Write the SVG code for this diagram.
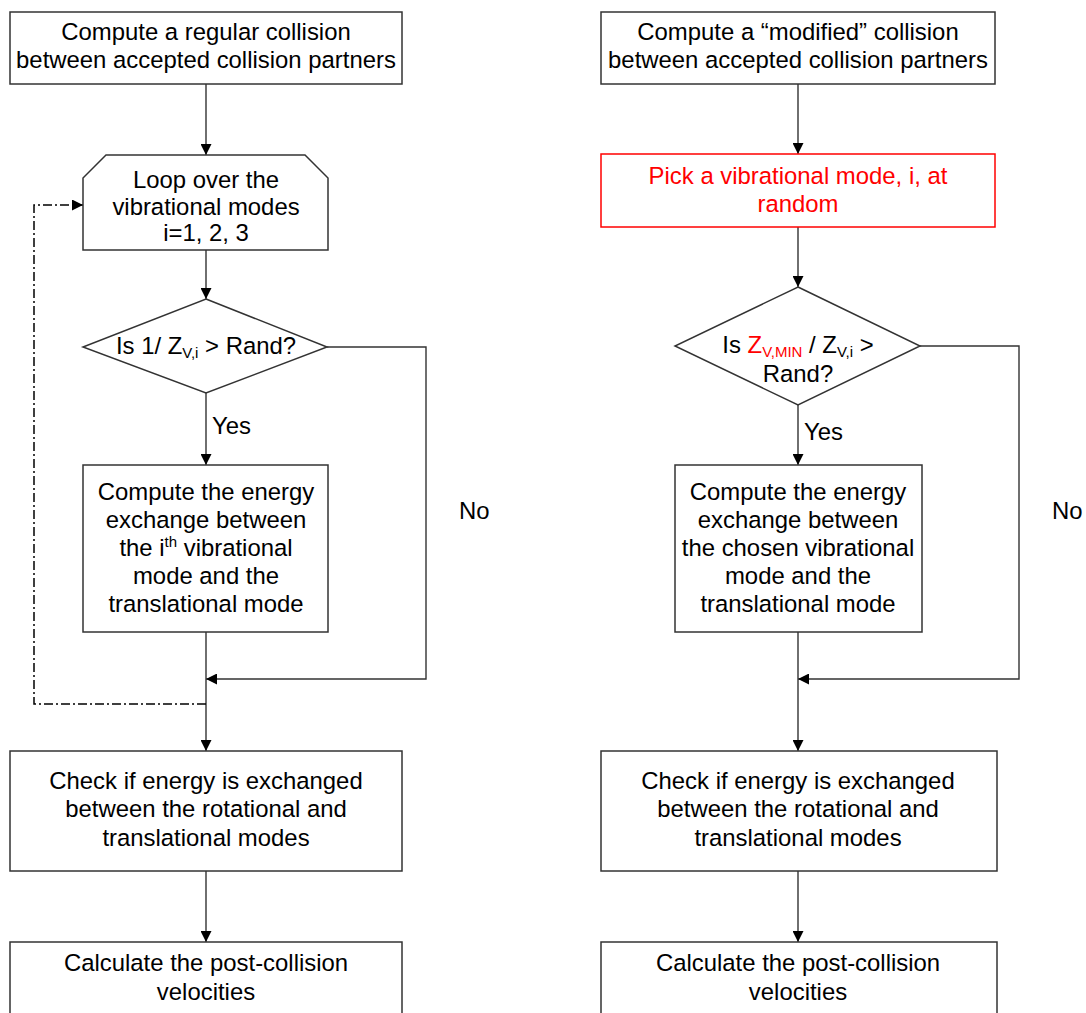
<svg xmlns="http://www.w3.org/2000/svg" width="1086" height="1013" viewBox="0 0 1086 1013">
<style>
text{font-family:"Liberation Sans",Arial,sans-serif;font-size:23.9px;fill:#000;text-anchor:middle}
.box{fill:#fff;stroke:#333;stroke-width:1.5}
.red{fill:#fff;stroke:#f00;stroke-width:1.5}
.rt{fill:#f00}
.ln{fill:none;stroke:#333;stroke-width:1.4}
.dd{fill:none;stroke:#000;stroke-width:1.5;stroke-dasharray:9 3 2 3}
.lbl{text-anchor:start}
</style>
<defs>
<marker id="ah" markerUnits="userSpaceOnUse" markerWidth="11" markerHeight="11" refX="10" refY="5" orient="auto" viewBox="0 0 10 10">
<path d="M0,0 L10,5 L0,10 z" fill="#000"/>
</marker>
</defs>
<g id="connectors">
<line class="ln" x1="206" y1="84" x2="206" y2="155" marker-end="url(#ah)"/>
<line class="ln" x1="206" y1="250" x2="206" y2="299" marker-end="url(#ah)"/>
<line class="ln" x1="206" y1="393" x2="206" y2="465" marker-end="url(#ah)"/>
<polyline class="ln" points="327,347 426,347 426,679 206,679" marker-end="url(#ah)"/>
<line class="ln" x1="206" y1="632" x2="206" y2="751" marker-end="url(#ah)"/>
<polyline class="dd" points="206,704 34,704 34,205 83,205" marker-end="url(#ah)"/>
<line class="ln" x1="206" y1="871" x2="206" y2="942" marker-end="url(#ah)"/>
<line class="ln" x1="798" y1="84" x2="798" y2="154" marker-end="url(#ah)"/>
<line class="ln" x1="798" y1="227" x2="798" y2="287" marker-end="url(#ah)"/>
<line class="ln" x1="798" y1="405" x2="798" y2="465" marker-end="url(#ah)"/>
<polyline class="ln" points="920,346 1019,346 1019,679 798,679" marker-end="url(#ah)"/>
<line class="ln" x1="798" y1="632" x2="798" y2="751" marker-end="url(#ah)"/>
<line class="ln" x1="798" y1="871" x2="798" y2="942" marker-end="url(#ah)"/>
<text class="lbl" x="212" y="434">Yes</text>
<text class="lbl" x="459" y="519">No</text>
<text class="lbl" x="804" y="440">Yes</text>
<text class="lbl" x="1052" y="519">No</text>
</g>
<g id="l-start">
<rect class="box" x="10" y="12" width="392" height="72"/>
<text x="206" y="40">Compute a regular collision</text>
<text x="206" y="68">between accepted collision partners</text>
</g>
<g id="l-loop">
<polygon class="box" points="106,155 305,155 328,178 328,250 83,250 83,178"/>
<text x="206" y="188">Loop over the</text>
<text x="206" y="215">vibrational modes</text>
<text x="206" y="241">i=1, 2, 3</text>
</g>
<g id="l-decision">
<polygon class="box" points="206,299 327,347 206,393 83,347"/>
<text x="206" y="354">Is 1/ Z<tspan font-size="15" dy="4">V,i</tspan><tspan dy="-4"> &gt; Rand?</tspan></text>
</g>
<g id="l-exchange">
<rect class="box" x="83" y="465" width="245" height="167"/>
<text x="206" y="500">Compute the energy</text>
<text x="206" y="528">exchange between</text>
<text x="206" y="556">the i<tspan font-size="15" dy="-9">th</tspan><tspan dy="9"> vibrational</tspan></text>
<text x="206" y="584">mode and the</text>
<text x="206" y="612">translational mode</text>
</g>
<g id="l-check">
<rect class="box" x="10" y="751" width="392" height="120"/>
<text x="206" y="789">Check if energy is exchanged</text>
<text x="206" y="817">between the rotational and</text>
<text x="206" y="846">translational modes</text>
</g>
<g id="l-calc">
<rect class="box" x="10" y="942" width="392" height="90"/>
<text x="206" y="971">Calculate the post-collision</text>
<text x="206" y="1000">velocities</text>
</g>
<g id="r-start">
<rect class="box" x="601" y="12" width="394" height="72"/>
<text x="798" y="40">Compute a “modified” collision</text>
<text x="798" y="68">between accepted collision partners</text>
</g>
<g id="r-pick">
<rect class="red" x="601" y="154" width="394" height="73"/>
<text class="rt" x="798" y="184">Pick a vibrational mode, i, at</text>
<text class="rt" x="798" y="212">random</text>
</g>
<g id="r-decision">
<polygon class="box" points="798,287 920,346 798,405 675,346"/>
<text x="798" y="353">Is <tspan class="rt">Z</tspan><tspan class="rt" font-size="15" dy="4">V,MIN</tspan><tspan dy="-4"> / Z</tspan><tspan font-size="15" dy="4">V,i</tspan><tspan dy="-4"> &gt;</tspan></text>
<text x="798" y="382">Rand?</text>
</g>
<g id="r-exchange">
<rect class="box" x="675" y="465" width="247" height="167"/>
<text x="798" y="500">Compute the energy</text>
<text x="798" y="528">exchange between</text>
<text x="798" y="556">the chosen vibrational</text>
<text x="798" y="584">mode and the</text>
<text x="798" y="612">translational mode</text>
</g>
<g id="r-check">
<rect class="box" x="601" y="751" width="396" height="120"/>
<text x="798" y="789">Check if energy is exchanged</text>
<text x="798" y="817">between the rotational and</text>
<text x="798" y="846">translational modes</text>
</g>
<g id="r-calc">
<rect class="box" x="601" y="942" width="396" height="90"/>
<text x="798" y="971">Calculate the post-collision</text>
<text x="798" y="1000">velocities</text>
</g>
</svg>
